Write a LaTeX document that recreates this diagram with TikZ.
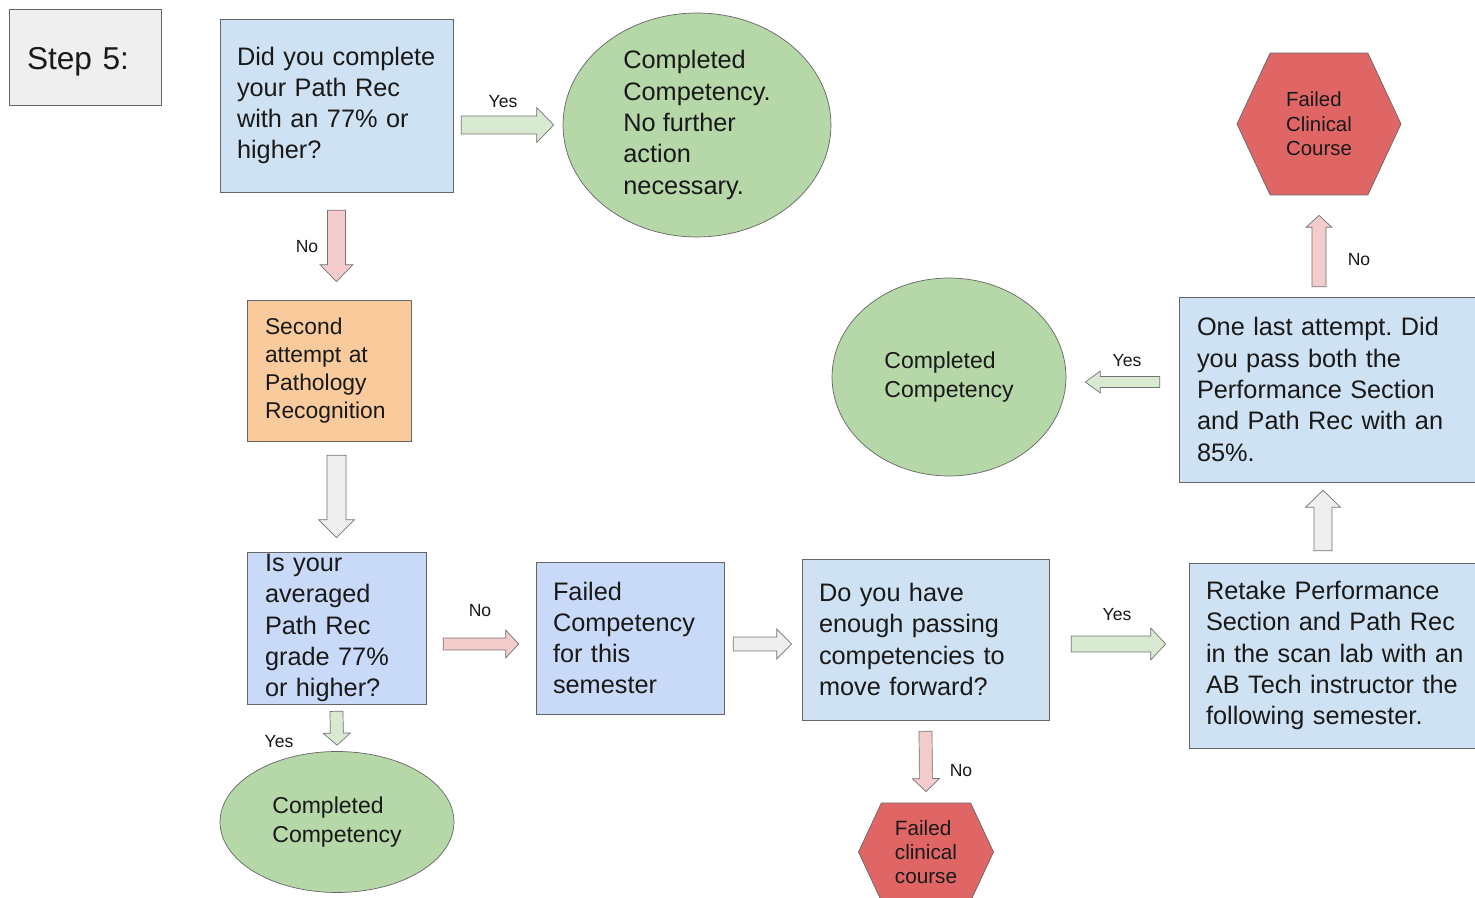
\documentclass[tikz,border=0pt]{standalone}
\usepackage{fontspec}
\setmainfont{Liberation Sans}
\usepackage{tikz}
\usetikzlibrary{calc, shapes.geometric, shapes.symbols}
\frenchspacing

\definecolor{lightblue}{HTML}{CFE2F3}
\definecolor{cornblue}{HTML}{C9DAF8}
\definecolor{peach}{HTML}{F9CB9C}
\definecolor{sage}{HTML}{B6D7A8}
\definecolor{brick}{HTML}{E06666}
\definecolor{paleGray}{HTML}{EFEFEF}
\definecolor{paleGreen}{HTML}{D9EAD3}
\definecolor{palePink}{HTML}{F4CCCC}

\newcommand{\bigtxt}{\fontsize{14.4}{17.8}\selectfont}
\newcommand{\midtxt}{\fontsize{13}{16}\selectfont}
\newcommand{\blkarrow}[6]{%
  \coordinate (ba) at #2;
  \coordinate (bb) at #3;
  \coordinate (bc) at ($(bb)!#6!(ba)$);
  \filldraw[fill=#1, draw=black!55] ($(ba)!#4!90:(bb)$) -- ($(bc)!#4!90:(bb)$)
    -- ($(bc)!#5!90:(bb)$) -- (bb) -- ($(bc)!#5!-90:(bb)$)
    -- ($(bc)!#4!-90:(bb)$) -- ($(ba)!#4!-90:(bb)$) -- cycle;
}

\tikzset{
  box/.style={draw=black!60, align=left, inner xsep=0.34cm, text=black!90, font=\bigtxt},
  oval/.style={ellipse, draw=black!60, fill=sage, align=left, inner sep=0pt, text=black!90},
  hexa/.style={signal, signal to=west and east, signal pointer angle=130, draw=black!60,
    fill=brick, align=left, inner sep=0pt, text=black!90},
  lbl/.style={font=\fontsize{10}{12}\selectfont, text=black!90, inner sep=1pt}
}

\begin{document}
\begin{tikzpicture}[x=0.02cm, y=-0.02cm]
  \clip (0,0) rectangle (1475,898);
  \fill[white] (0,0) rectangle (1475,898);

  \node[box, fill=paleGray, font=\fontsize{18}{22}\selectfont, inner xsep=0.36cm,
    text height=0.62cm, text depth=0.1cm,
    minimum width=3.04cm, minimum height=1.92cm, text width=2.32cm] (step) at (85,57) {Step 5:};

  \node[box, fill=lightblue, minimum width=4.66cm, minimum height=3.46cm, text width=3.98cm]
    (q1) at (336.5,105.5) {Did you complete\\your Path Rec\\with an 77\% or\\higher?};
  \node[oval, font=\bigtxt, minimum width=5.36cm, minimum height=4.48cm]
    (ok1) at (697,125) {Completed\\Competency.\\No further\\action\\necessary.};
  \node[box, fill=peach, font=\midtxt, inner xsep=0.36cm, minimum width=3.28cm,
    minimum height=2.82cm, text width=2.56cm] (s2) at (329,370.5)
    {Second\\attempt at\\Pathology\\Recognition};
  \node[box, fill=cornblue, inner xsep=0.36cm, inner ysep=0pt, minimum width=3.58cm,
    minimum height=3.04cm, text width=2.86cm] (q2) at (336.5,628)
    {Is your\\averaged\\Path Rec\\grade 77\%\\or higher?};
  \node[oval, font=\fontsize{13.1}{16.5}\selectfont, minimum width=4.68cm, minimum height=2.82cm]
    (ok3) at (337,822) {Completed\\Competency};
  \node[box, fill=cornblue, minimum width=3.76cm, minimum height=3.04cm, text width=3.08cm]
    (fail) at (630,638) {Failed\\Competency\\for this\\semester};
  \node[box, fill=lightblue, minimum width=4.94cm, minimum height=3.22cm, text width=4.26cm]
    (q3) at (925.5,639.5) {Do you have\\enough passing\\competencies to\\move forward?};
  \node[hexa, font=\fontsize{11.8}{13.7}\selectfont, minimum width=2.7cm, minimum height=1.96cm]
    (fc2) at (926,852) {Failed\\clinical\\course};
  \node[box, fill=lightblue, minimum width=6.02cm, minimum height=3.7cm, text width=5.34cm]
    (rt) at (1339.5,655.5) {Retake Performance\\Section and Path Rec\\in the scan lab with an\\AB Tech instructor the\\following semester.};
  \node[box, fill=lightblue, inner xsep=0.36cm, minimum width=6.22cm, minimum height=3.7cm,
    text width=5.5cm] (q4) at (1334.5,389.5) {One last attempt. Did\\you pass both the\\Performance Section\\and Path Rec with an\\85\%.};
  \node[oval, font=\fontsize{13.1}{16.5}\selectfont, minimum width=4.68cm, minimum height=3.96cm]
    (ok2) at (949,377) {Completed\\Competency};
  \node[hexa, font=\fontsize{11.6}{13.9}\selectfont, minimum width=3.28cm, minimum height=2.84cm]
    (fc1) at (1319,124) {Failed\\Clinical\\Course\hspace{0.2cm}};

  \blkarrow{paleGreen}{($(q1.east |- ok1.west)+(8,0)$)}{($(ok1.west)+(-9,0)$)}{0.18cm}{0.35cm}{0.34cm}
  \blkarrow{palePink}{($(q1.south)+(0,18)$)}{($(q1.south |- s2.north)+(0,-18)$)}{0.18cm}{0.33cm}{0.34cm}
  \blkarrow{paleGray}{($(q2.north |- s2.south)+(0,14)$)}{($(q2.north)+(0,-14)$)}{0.19cm}{0.36cm}{0.36cm}
  \blkarrow{palePink}{($(q2.east |- fail.west)+(17,6)$)}{($(fail.west)+(-17,6)$)}{0.12cm}{0.28cm}{0.26cm}
  \blkarrow{paleGreen}{($(q2.south)+(0,7)$)}{($(ok3.north)+(0,-6)$)}{0.13cm}{0.27cm}{0.24cm}
  \blkarrow{paleGray}{($(fail.east)+(9,6)$)}{($(q3.west |- fail.east)+(-10,6)$)}{0.14cm}{0.3cm}{0.3cm}
  \blkarrow{paleGreen}{($(q3.east)+(22,4.5)$)}{($(q3.east -| rt.west)+(-23,4.5)$)}{0.16cm}{0.32cm}{0.3cm}
  \blkarrow{palePink}{($(q3.south)+(0,11)$)}{($(fc2.north)+(0,-11)$)}{0.13cm}{0.27cm}{0.26cm}
  \blkarrow{paleGray}{($(rt.north)+(-16.5,-12)$)}{($(rt.north |- q4.south)+(-16.5,8)$)}{0.18cm}{0.35cm}{0.34cm}
  \blkarrow{paleGreen}{($(q4.west)+(-19,-7.5)$)}{($(ok2.east |- q4.west)+(19,-7.5)$)}{0.11cm}{0.22cm}{0.3cm}
  \blkarrow{palePink}{($(fc1.south |- q4.north)+(0,-10)$)}{($(fc1.south)+(0,20)$)}{0.14cm}{0.26cm}{0.24cm}

  \node[lbl] (yes1) at (503,102) {Yes};
  \node[lbl] (no1) at (307,247) {No};
  \node[lbl] (no2) at (480,611) {No};
  \node[lbl] (yes2) at (279,742) {Yes};
  \node[lbl] (yes3) at (1117,615) {Yes};
  \node[lbl] (no3) at (961,771) {No};
  \node[lbl] (yes4) at (1127,361) {Yes};
  \node[lbl] (no4) at (1359,260) {No};
\end{tikzpicture}
\end{document}
